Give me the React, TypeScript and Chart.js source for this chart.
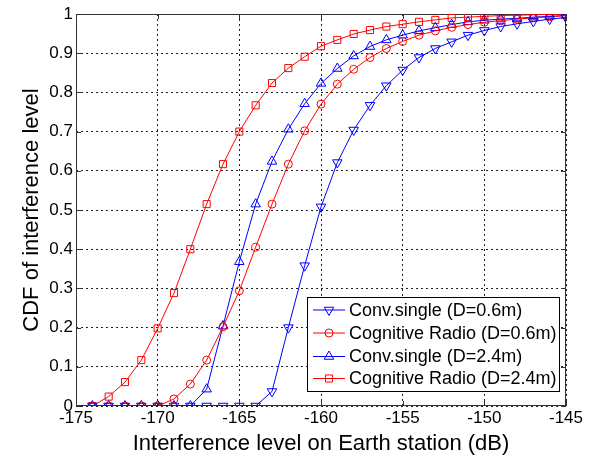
import React, { useEffect, useRef } from 'react';
import { Chart, registerables } from 'chart.js';

Chart.register(...registerables);

const xValues = [-174, -173, -172, -171, -170, -169, -168, -167, -166, -165, -164, -163, -162, -161, -160, -159, -158, -157, -156, -155, -154, -153, -152, -151, -150, -149, -148, -147, -146, -145];

const convSingle06 = [0, 0, 0, 0, 0, 0, 0, 0, 0, 0, 0, 0.037, 0.2, 0.358, 0.508, 0.621, 0.704, 0.767, 0.817, 0.857, 0.889, 0.912, 0.929, 0.946, 0.958, 0.968, 0.975, 0.981, 0.987, 0.991];
const cognitive06 = [0, 0, 0, 0, 0, 0.018, 0.056, 0.117, 0.202, 0.294, 0.405, 0.515, 0.617, 0.702, 0.77, 0.821, 0.859, 0.889, 0.912, 0.93, 0.946, 0.957, 0.966, 0.973, 0.979, 0.983, 0.987, 0.99, 0.993, 0.996];
const convSingle24 = [0, 0, 0, 0, 0, 0, 0, 0.043, 0.204, 0.368, 0.515, 0.624, 0.706, 0.771, 0.823, 0.861, 0.893, 0.917, 0.934, 0.946, 0.957, 0.965, 0.973, 0.98, 0.984, 0.987, 0.989, 0.992, 0.994, 0.996];
const cognitive24 = [0, 0.024, 0.061, 0.117, 0.198, 0.288, 0.4, 0.515, 0.617, 0.7, 0.767, 0.824, 0.862, 0.891, 0.918, 0.934, 0.949, 0.959, 0.968, 0.974, 0.98, 0.985, 0.99, 0.992, 0.994, 0.996, 0.997, 0.998, 0.999, 1.0];

const seriesLabels = ['Conv.single (D=0.6m)', 'Cognitive Radio (D=0.6m)', 'Conv.single (D=2.4m)', 'Cognitive Radio (D=2.4m)'];
const seriesValues = [convSingle06, cognitive06, convSingle24, cognitive24];
const seriesColors = ['#0000ff', '#ff0000', '#0000ff', '#ff0000'];
const seriesMarkers = ['triangleDown', 'circle', 'triangle', 'rect'];

const xTicks = [-175, -170, -165, -160, -155, -150, -145];
const xTickLabels = ['-175', '-170', '-165', '-160', '-155', '-150', '-145'];
const yTicks = [0, 0.1, 0.2, 0.3, 0.4, 0.5, 0.6, 0.7, 0.8, 0.9, 1];
const yTickLabels = ['0', '0.1', '0.2', '0.3', '0.4', '0.5', '0.6', '0.7', '0.8', '0.9', '1'];

const xTitle = 'Interference level on Earth station (dB)';
const yTitle = 'CDF of interference level';

const FONT = "'Liberation Sans', Arial, sans-serif";

function markerProps(m: string) {
  if (m === 'triangleDown') return { pointStyle: 'triangle', pointRotation: 180, pointRadius: 5.5 };
  if (m === 'triangle') return { pointStyle: 'triangle', pointRotation: 0, pointRadius: 5.5 };
  if (m === 'rect') return { pointStyle: 'rect', pointRotation: 0, pointRadius: 5 };
  return { pointStyle: 'circle', pointRotation: 0, pointRadius: 4 };
}

function drawMarker(ctx: CanvasRenderingContext2D, m: string, x: number, y: number) {
  ctx.beginPath();
  if (m === 'circle') {
    ctx.arc(x, y, 4, 0, Math.PI * 2);
  } else if (m === 'rect') {
    const s = 5 * Math.SQRT1_2;
    ctx.rect(x - s, y - s, 2 * s, 2 * s);
  } else {
    const r = 5.5;
    const dir = m === 'triangle' ? -1 : 1;
    const angles = [0, 2 * Math.PI / 3, 4 * Math.PI / 3];
    angles.forEach((a, i) => {
      const px = x + Math.sin(a) * r;
      const py = y + dir * Math.cos(a) * r;
      if (i === 0) ctx.moveTo(px, py); else ctx.lineTo(px, py);
    });
    ctx.closePath();
  }
  ctx.stroke();
}

const framePlugin = {
  id: 'frame',
  beforeDatasetsDraw(chart: any) {
    const { ctx, chartArea } = chart;
    const { left, right, top, bottom } = chartArea;
    ctx.save();
    ctx.strokeStyle = '#333333';
    ctx.lineWidth = 1;
    ctx.setLineDash([]);
    ctx.strokeRect(left + 0.5, top + 0.5, right - left - 1, bottom - top - 1);
    const xs = chart.scales.x;
    const ys = chart.scales.y;
    ctx.beginPath();
    xTicks.forEach((v) => {
      const px = Math.round(xs.getPixelForValue(v)) + 0.5;
      ctx.moveTo(px, bottom);
      ctx.lineTo(px, bottom - 5);
      ctx.moveTo(px, top);
      ctx.lineTo(px, top + 5);
    });
    yTicks.forEach((v) => {
      const py = Math.round(ys.getPixelForValue(v)) + 0.5;
      ctx.moveTo(left, py);
      ctx.lineTo(left + 5, py);
      ctx.moveTo(right, py);
      ctx.lineTo(right - 5, py);
    });
    ctx.stroke();
    ctx.restore();
  },
};

const legendPlugin = {
  id: 'customLegend',
  afterDraw(chart: any) {
    const { ctx } = chart;
    const boxL = 307, boxT = 297, boxR = 559, boxB = 391;
    ctx.save();
    ctx.fillStyle = '#ffffff';
    ctx.fillRect(boxL, boxT, boxR - boxL, boxB - boxT);
    ctx.strokeStyle = '#000000';
    ctx.lineWidth = 1;
    ctx.setLineDash([]);
    ctx.strokeRect(boxL + 0.5, boxT + 0.5, boxR - boxL, boxB - boxT);
    const rows = [310, 333, 356.5, 378.5];
    ctx.font = `18px ${FONT}`;
    ctx.textBaseline = 'middle';
    ctx.textAlign = 'left';
    seriesLabels.forEach((label, i) => {
      const y = rows[i];
      ctx.strokeStyle = seriesColors[i];
      ctx.lineWidth = 1;
      ctx.beginPath();
      ctx.moveTo(313, y);
      ctx.lineTo(345, y);
      ctx.stroke();
      drawMarker(ctx, seriesMarkers[i], 329, y);
      ctx.fillStyle = '#000000';
      ctx.fillText(label, 349, y + 1);
    });
    ctx.restore();
  },
};

export default function App() {
  const ref = useRef<HTMLCanvasElement | null>(null);
  useEffect(() => {
    if (!ref.current) return;
    const datasets = seriesLabels.map((label, i) => ({
      label,
      data: xValues.map((x, j) => ({ x, y: seriesValues[i][j] })),
      borderColor: seriesColors[i],
      backgroundColor: 'rgba(0,0,0,0)',
      borderWidth: 1,
      pointBorderWidth: 1,
      pointBorderColor: seriesColors[i],
      pointBackgroundColor: 'rgba(0,0,0,0)',
      tension: 0,
      ...markerProps(seriesMarkers[i]),
    }));
    const chart = new Chart(ref.current, {
      type: 'line',
      data: { datasets },
      plugins: [framePlugin, legendPlugin],
      options: {
        animation: false,
        responsive: false,
        devicePixelRatio: 1,
        layout: { padding: { left: 0, right: 27, top: 14, bottom: 0 } },
        plugins: { legend: { display: false }, tooltip: { enabled: false } },
        scales: {
          x: {
            type: 'linear',
            min: -175,
            max: -145,
            afterBuildTicks: (s: any) => { s.ticks = xTicks.map((v) => ({ value: v })); },
            afterFit: (s: any) => { s.height = 51; },
            ticks: {
              autoSkip: false,
              maxRotation: 0,
              padding: 2,
              color: '#000',
              font: { family: FONT, size: 17 },
              callback: (_v: any, i: number) => xTickLabels[i],
            },
            grid: { color: '#222', drawTicks: false, lineWidth: 1 },
            border: { display: false, dash: [2, 3] },
            title: { display: true, text: xTitle, color: '#000', font: { family: FONT, size: 22 }, padding: { top: 0, bottom: 0 } },
          },
          y: {
            type: 'linear',
            min: 0,
            max: 1,
            afterBuildTicks: (s: any) => { s.ticks = yTicks.map((v) => ({ value: v })); },
            afterFit: (s: any) => { s.width = 76; },
            ticks: {
              autoSkip: false,
              padding: 3,
              color: '#000',
              font: { family: FONT, size: 17 },
              callback: (_v: any, i: number) => yTickLabels[i],
            },
            grid: { color: '#222', drawTicks: false, lineWidth: 1 },
            border: { display: false, dash: [2, 3] },
            title: { display: true, text: yTitle, color: '#000', font: { family: FONT, size: 22 }, padding: { top: 19, bottom: 0 } },
          },
        },
      },
    });
    return () => chart.destroy();
  }, []);
  return (
    <div style={{ position: 'absolute', left: 0, top: 0, width: 593, height: 457, background: '#fff' }}>
      <canvas ref={ref} width={593} height={457} />
    </div>
  );
}
